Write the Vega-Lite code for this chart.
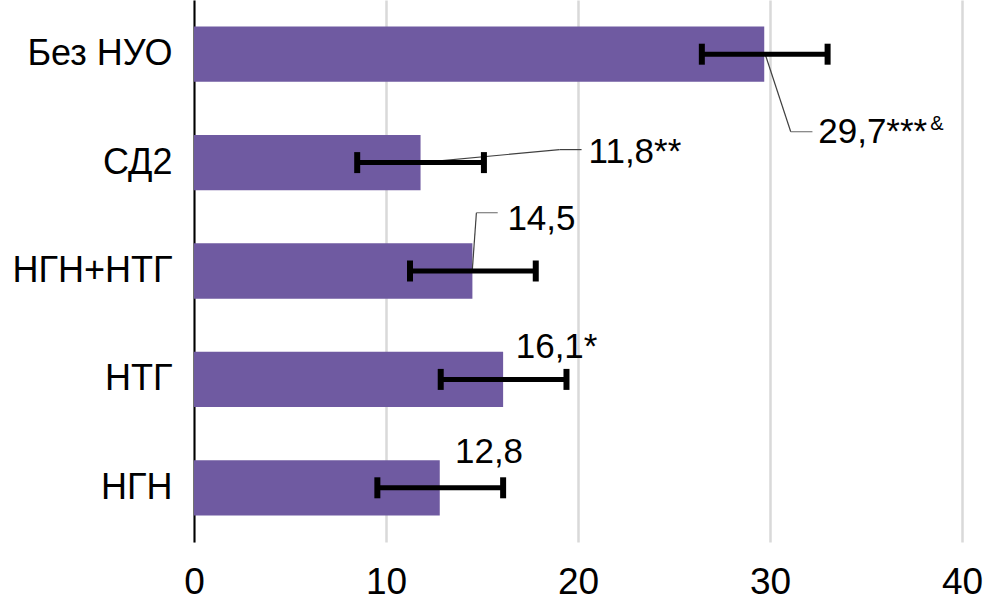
{
  "$schema": "https://vega.github.io/schema/vega-lite/v6.json",
  "width": 768,
  "height": 542,
  "autosize": {"type": "none"},
  "padding": {"left": 194, "top": 0, "right": 42, "bottom": 73},
  "config": {
    "view": {"stroke": null},
    "font": "Liberation Sans",
    "text": {"font": "Liberation Sans", "color": "black"}
  },
  "data": {
    "values": [
      {"grp": "Без НУО", "v": 29.7, "lo": 26.45, "hi": 33.0, "lbl": "29,7***", "sup": "&"},
      {"grp": "СД2", "v": 11.8, "lo": 8.5, "hi": 15.1, "lbl": "11,8**"},
      {"grp": "НГН+НТГ", "v": 14.5, "lo": 11.25, "hi": 17.8, "lbl": "14,5"},
      {"grp": "НТГ", "v": 16.1, "lo": 12.85, "hi": 19.4, "lbl": "16,1*"},
      {"grp": "НГН", "v": 12.8, "lo": 9.55, "hi": 16.1, "lbl": "12,8"}
    ]
  },
  "encoding": {
    "y": {
      "field": "grp",
      "type": "nominal",
      "sort": null,
      "scale": {"paddingInner": 0.49, "paddingOuter": 0.245},
      "axis": {
        "title": null,
        "domain": true,
        "domainColor": "black",
        "domainWidth": 2,
        "ticks": false,
        "grid": false,
        "labelFontSize": 36,
        "labelColor": "black",
        "labelPadding": 22,
        "labelFont": "Liberation Sans"
      }
    }
  },
  "layer": [
    {
      "mark": {"type": "bar", "color": "#6F5AA1"},
      "encoding": {
        "x": {
          "field": "v",
          "type": "quantitative",
          "scale": {"domain": [0, 40], "nice": false},
          "axis": {
            "title": null,
            "values": [0, 10, 20, 30, 40],
            "grid": true,
            "gridColor": "#d9d9d9",
            "gridWidth": 2.5,
            "domain": false,
            "ticks": false,
            "labelFontSize": 37,
            "labelColor": "black",
            "labelPadding": 22,
            "labelFlush": false,
            "labelOverlap": false,
            "labelFont": "Liberation Sans"
          }
        }
      }
    },
    {
      "transform": [{"filter": "datum.grp == 'Без НУО'"}],
      "mark": {"type": "rule", "color": "#404040", "strokeWidth": 1.2, "xOffset": 1.2, "x2Offset": 26.5, "yOffset": 0.8, "y2Offset": 77.5},
      "encoding": {"x": {"field": "v", "type": "quantitative"}, "x2": {"field": "v"}, "y2": {"field": "grp"}}
    },
    {
      "transform": [{"filter": "datum.grp == 'Без НУО'"}],
      "mark": {"type": "rule", "color": "#7f7f7f", "strokeWidth": 1.2, "xOffset": 26.5, "x2Offset": 48.2, "yOffset": 77.5, "y2Offset": 77.5},
      "encoding": {"x": {"field": "v", "type": "quantitative"}, "x2": {"field": "v"}, "y2": {"field": "grp"}}
    },
    {
      "transform": [{"filter": "datum.grp == 'СД2'"}],
      "mark": {"type": "rule", "color": "#404040", "strokeWidth": 1.2, "xOffset": 0, "x2Offset": 139, "yOffset": 0, "y2Offset": -13},
      "encoding": {"x": {"field": "v", "type": "quantitative"}, "x2": {"field": "v"}, "y2": {"field": "grp"}}
    },
    {
      "transform": [{"filter": "datum.grp == 'СД2'"}],
      "mark": {"type": "rule", "color": "#404040", "strokeWidth": 1.2, "xOffset": 139, "x2Offset": 161, "yOffset": -13, "y2Offset": -13},
      "encoding": {"x": {"field": "v", "type": "quantitative"}, "x2": {"field": "v"}, "y2": {"field": "grp"}}
    },
    {
      "transform": [{"filter": "datum.grp == 'НГН+НТГ'"}],
      "mark": {"type": "rule", "color": "#404040", "strokeWidth": 1.2, "xOffset": 0, "x2Offset": 4, "yOffset": -2, "y2Offset": -58.3},
      "encoding": {"x": {"field": "v", "type": "quantitative"}, "x2": {"field": "v"}, "y2": {"field": "grp"}}
    },
    {
      "transform": [{"filter": "datum.grp == 'НГН+НТГ'"}],
      "mark": {"type": "rule", "color": "#7f7f7f", "strokeWidth": 1.2, "xOffset": 4, "x2Offset": 25.3, "yOffset": -58.3, "y2Offset": -58.3},
      "encoding": {"x": {"field": "v", "type": "quantitative"}, "x2": {"field": "v"}, "y2": {"field": "grp"}}
    },
    {
      "mark": {"type": "rule", "color": "black", "strokeWidth": 5},
      "encoding": {"x": {"field": "lo", "type": "quantitative"}, "x2": {"field": "hi"}}
    },
    {
      "mark": {"type": "tick", "color": "black", "opacity": 1, "size": 21, "thickness": 6, "orient": "vertical"},
      "encoding": {"x": {"field": "lo", "type": "quantitative"}}
    },
    {
      "mark": {"type": "tick", "color": "black", "opacity": 1, "size": 21, "thickness": 6, "orient": "vertical"},
      "encoding": {"x": {"field": "hi", "type": "quantitative"}}
    },
    {
      "transform": [{"filter": "datum.grp == 'Без НУО'"}],
      "mark": {"type": "text", "align": "left", "baseline": "alphabetic", "dx": 54, "dy": 88.5, "fontSize": 35},
      "encoding": {"x": {"field": "v", "type": "quantitative"}, "text": {"field": "lbl"}}
    },
    {
      "transform": [{"filter": "datum.grp == 'Без НУО'"}],
      "mark": {"type": "text", "align": "left", "baseline": "alphabetic", "dx": 166, "dy": 75.8, "fontSize": 20},
      "encoding": {"x": {"field": "v", "type": "quantitative"}, "text": {"field": "sup"}}
    },
    {
      "transform": [{"filter": "datum.grp == 'СД2'"}],
      "mark": {"type": "text", "align": "left", "baseline": "alphabetic", "dx": 168, "dy": 0.7, "fontSize": 35},
      "encoding": {"x": {"field": "v", "type": "quantitative"}, "text": {"field": "lbl"}}
    },
    {
      "transform": [{"filter": "datum.grp == 'НГН+НТГ'"}],
      "mark": {"type": "text", "align": "left", "baseline": "alphabetic", "dx": 35, "dy": -41, "fontSize": 35},
      "encoding": {"x": {"field": "v", "type": "quantitative"}, "text": {"field": "lbl"}}
    },
    {
      "transform": [{"filter": "datum.grp == 'НТГ'"}],
      "mark": {"type": "text", "align": "left", "baseline": "alphabetic", "dx": 12.6, "dy": -21.7, "fontSize": 35},
      "encoding": {"x": {"field": "v", "type": "quantitative"}, "text": {"field": "lbl"}}
    },
    {
      "transform": [{"filter": "datum.grp == 'НГН'"}],
      "mark": {"type": "text", "align": "left", "baseline": "alphabetic", "dx": 15.2, "dy": -25.1, "fontSize": 35},
      "encoding": {"x": {"field": "v", "type": "quantitative"}, "text": {"field": "lbl"}}
    }
  ]
}
